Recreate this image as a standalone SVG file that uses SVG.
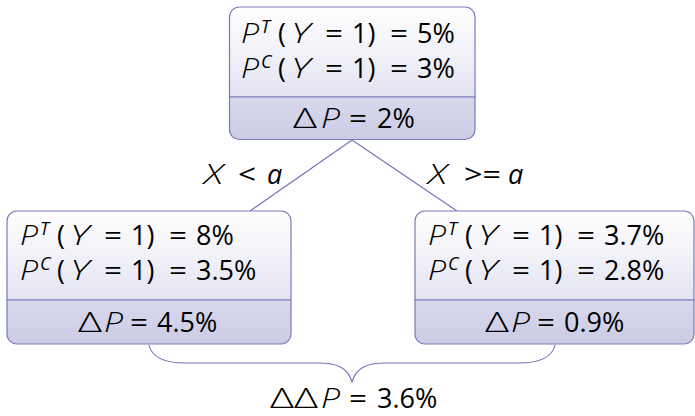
<svg xmlns="http://www.w3.org/2000/svg" width="695" height="416" viewBox="0 0 695 416">
<defs>
<linearGradient id="gTop" x1="0" y1="0" x2="0" y2="1"><stop offset="0" stop-color="#ffffff"/><stop offset="1" stop-color="#e4e4f2"/></linearGradient>
<linearGradient id="gBot" x1="0" y1="0" x2="0" y2="1"><stop offset="0" stop-color="#d8d8ed"/><stop offset="1" stop-color="#cbcbe5"/></linearGradient>
</defs>
<style>
.box{stroke:#7a7ab9;stroke-width:1.2}
.conn{stroke:#7272b6;stroke-width:1.1;fill:none}
text{font-family:"Open Sans","DejaVu Sans",sans-serif;font-size:27px;fill:#000}
.i{font-style:italic}
.w{font-weight:300}
.sup{font-size:18px;font-style:italic}
</style>
<g id="connectors">
<line class="conn" x1="352" y1="140" x2="250" y2="211"/>
<line class="conn" x1="352" y1="140" x2="457" y2="211"/>
<path class="conn" d="M149,345 C152,358 165,363 185,363 L318,363 C338,363 348,368 352,382 C356,368 366,363 386,363 L519,363 C539,363 552,358 555,345"/>
</g>
<g id="labels">
<text y="184"><tspan x="204" class="i w" textLength="19" lengthAdjust="spacingAndGlyphs">X</tspan><tspan x="238" textLength="18" lengthAdjust="spacingAndGlyphs">&lt;</tspan><tspan x="267" class="i">a</tspan></text>
<text y="184"><tspan x="428" class="i w" textLength="19" lengthAdjust="spacingAndGlyphs">X</tspan><tspan x="464" textLength="37" lengthAdjust="spacingAndGlyphs">&gt;=</tspan><tspan x="508" class="i">a</tspan></text>
<text y="408"><tspan x="270" class="w" textLength="48" lengthAdjust="spacingAndGlyphs">ΔΔ</tspan><tspan x="321" class="i w" textLength="19" lengthAdjust="spacingAndGlyphs">P</tspan><tspan x="349" textLength="18" lengthAdjust="spacingAndGlyphs">=</tspan><tspan x="377">3.6%</tspan></text>
</g>
<g id="root">
<path class="box" fill="url(#gTop)" d="M239.5,7 H465 A10,10 0 0 1 475,17 V97 H229.5 V17 A10,10 0 0 1 239.5,7 Z"/>
<path class="box" fill="url(#gBot)" d="M229.5,97 H475 V129.5 A10,10 0 0 1 465,139.5 H239.5 A10,10 0 0 1 229.5,129.5 Z"/>
<text y="43"><tspan x="241" class="i w" textLength="18" lengthAdjust="spacingAndGlyphs">P</tspan><tspan x="261" y="33" class="sup">T</tspan><tspan x="278" y="43">(</tspan><tspan x="291" class="i w" textLength="19" lengthAdjust="spacingAndGlyphs">Y</tspan><tspan x="325" textLength="18" lengthAdjust="spacingAndGlyphs">=</tspan><tspan x="352">1)</tspan><tspan x="390" textLength="18" lengthAdjust="spacingAndGlyphs">=</tspan><tspan x="417">5%</tspan></text>
<text y="78"><tspan x="241" class="i w" textLength="18" lengthAdjust="spacingAndGlyphs">P</tspan><tspan x="261" y="68" class="sup">C</tspan><tspan x="278" y="78">(</tspan><tspan x="291" class="i w" textLength="19" lengthAdjust="spacingAndGlyphs">Y</tspan><tspan x="325" textLength="18" lengthAdjust="spacingAndGlyphs">=</tspan><tspan x="352">1)</tspan><tspan x="390" textLength="18" lengthAdjust="spacingAndGlyphs">=</tspan><tspan x="417">3%</tspan></text>
<text y="128"><tspan x="293" class="w" textLength="24" lengthAdjust="spacingAndGlyphs">Δ</tspan><tspan x="321" class="i w" textLength="19" lengthAdjust="spacingAndGlyphs">P</tspan><tspan x="349" textLength="18" lengthAdjust="spacingAndGlyphs">=</tspan><tspan x="377">2%</tspan></text>
</g>
<g id="left">
<path class="box" fill="url(#gTop)" d="M17,211 H281 A10,10 0 0 1 291,221 V300 H7 V221 A10,10 0 0 1 17,211 Z"/>
<path class="box" fill="url(#gBot)" d="M7,300 H291 V334 A10,10 0 0 1 281,344 H17 A10,10 0 0 1 7,334 Z"/>
<text y="245"><tspan x="20" class="i w" textLength="18" lengthAdjust="spacingAndGlyphs">P</tspan><tspan x="40" y="235" class="sup">T</tspan><tspan x="57" y="245">(</tspan><tspan x="70" class="i w" textLength="19" lengthAdjust="spacingAndGlyphs">Y</tspan><tspan x="104" textLength="18" lengthAdjust="spacingAndGlyphs">=</tspan><tspan x="131">1)</tspan><tspan x="169" textLength="18" lengthAdjust="spacingAndGlyphs">=</tspan><tspan x="196">8%</tspan></text>
<text y="280"><tspan x="20" class="i w" textLength="18" lengthAdjust="spacingAndGlyphs">P</tspan><tspan x="40" y="270" class="sup">C</tspan><tspan x="57" y="280">(</tspan><tspan x="70" class="i w" textLength="19" lengthAdjust="spacingAndGlyphs">Y</tspan><tspan x="104" textLength="18" lengthAdjust="spacingAndGlyphs">=</tspan><tspan x="131">1)</tspan><tspan x="169" textLength="18" lengthAdjust="spacingAndGlyphs">=</tspan><tspan x="196">3.5%</tspan></text>
<text y="332"><tspan x="78" class="w" textLength="24" lengthAdjust="spacingAndGlyphs">Δ</tspan><tspan x="104" class="i w" textLength="19" lengthAdjust="spacingAndGlyphs">P</tspan><tspan x="130" textLength="18" lengthAdjust="spacingAndGlyphs">=</tspan><tspan x="157">4.5%</tspan></text>
</g>
<g id="right">
<path class="box" fill="url(#gTop)" d="M425,211 H684 A10,10 0 0 1 694,221 V300 H415 V221 A10,10 0 0 1 425,211 Z"/>
<path class="box" fill="url(#gBot)" d="M415,300 H694 V334 A10,10 0 0 1 684,344 H425 A10,10 0 0 1 415,334 Z"/>
<text y="245"><tspan x="428" class="i w" textLength="18" lengthAdjust="spacingAndGlyphs">P</tspan><tspan x="448" y="235" class="sup">T</tspan><tspan x="465" y="245">(</tspan><tspan x="478" class="i w" textLength="19" lengthAdjust="spacingAndGlyphs">Y</tspan><tspan x="512" textLength="18" lengthAdjust="spacingAndGlyphs">=</tspan><tspan x="539">1)</tspan><tspan x="577" textLength="18" lengthAdjust="spacingAndGlyphs">=</tspan><tspan x="604">3.7%</tspan></text>
<text y="280"><tspan x="428" class="i w" textLength="18" lengthAdjust="spacingAndGlyphs">P</tspan><tspan x="448" y="270" class="sup">C</tspan><tspan x="465" y="280">(</tspan><tspan x="478" class="i w" textLength="19" lengthAdjust="spacingAndGlyphs">Y</tspan><tspan x="512" textLength="18" lengthAdjust="spacingAndGlyphs">=</tspan><tspan x="539">1)</tspan><tspan x="577" textLength="18" lengthAdjust="spacingAndGlyphs">=</tspan><tspan x="604">2.8%</tspan></text>
<text y="332"><tspan x="485" class="w" textLength="24" lengthAdjust="spacingAndGlyphs">Δ</tspan><tspan x="511" class="i w" textLength="19" lengthAdjust="spacingAndGlyphs">P</tspan><tspan x="537" textLength="18" lengthAdjust="spacingAndGlyphs">=</tspan><tspan x="564">0.9%</tspan></text>
</g>
</svg>
